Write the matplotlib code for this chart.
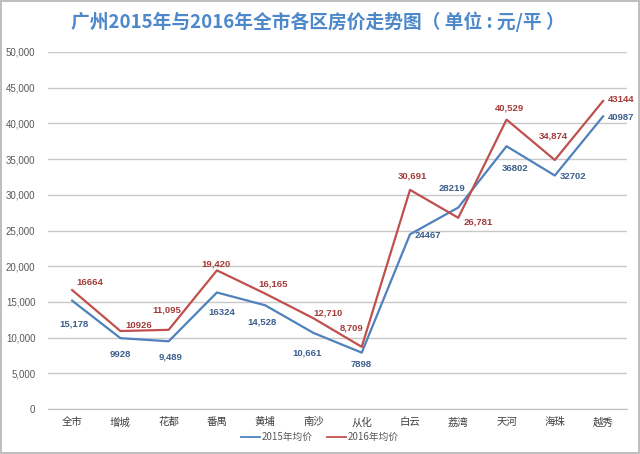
import matplotlib
matplotlib.use('Agg')
import matplotlib.pyplot as plt
import matplotlib.ticker as ticker

plt.rcParams['font.family'] = ['Noto Sans CJK SC', 'DejaVu Sans']

districts = ['全市', '增城', '花都', '番禺', '黄埔', '南沙', '从化', '白云', '荔湾', '天河', '海珠', '越秀']
price_2015 = [15178, 9928, 9489, 16324, 14528, 10661, 7898, 24467, 28219, 36802, 32702, 40987]
price_2016 = [16664, 10926, 11095, 19420, 16165, 12710, 8709, 30691, 26781, 40529, 34874, 43144]
labels_2015 = ['15,178', '9928', '9,489', '16324', '14,528', '10,661', '7898',
               '24467', '28219', '36802', '32702', '40987']
labels_2016 = ['16664', '10926', '11,095', '19,420', '16,165', '12,710', '8,709',
               '30,691', '26,781', '40,529', '34,874', '43144']

# label offsets in pixels (dx, dy)
off_2015 = [(2, -23), (0, -16), (2, -16), (5, -20), (-3, -17), (-6, -20), (-1, -12),
            (18, -1), (-6, 19), (9, -22), (18, -1), (18, -1)]
off_2016 = [(18, 8), (18, 6), (-2, 20), (-1, 6), (8, 10), (15, 5), (-10, 19),
            (2, 14), (20, -4), (3, 12), (-2, 24), (18, 1)]

blue = '#4F81BD'
red = '#C0504D'

fig = plt.figure(figsize=(6.4, 4.54), dpi=100)
fig.patch.set_facecolor('white')
fig.patch.set_edgecolor('#BFBFBF')
fig.patch.set_linewidth(1.5)

ax = fig.add_axes([0.075, 0.099, 0.905, 0.7865])
x = list(range(len(districts)))
ax.plot(x, price_2015, color=blue, lw=1.6, label='2015年均价')
ax.plot(x, price_2016, color=red, lw=1.6, label='2016年均价')

for i in x:
    ax.annotate(labels_2015[i], (i, price_2015[i]), xytext=off_2015[i], textcoords='offset pixels',
                ha='center', va='center', fontsize=6.8, fontweight='bold', color='#3B5E8C',
                family=['Liberation Sans', 'DejaVu Sans'])
    ax.annotate(labels_2016[i], (i, price_2016[i]), xytext=off_2016[i], textcoords='offset pixels',
                ha='center', va='center', fontsize=6.8, fontweight='bold', color='#A23B39',
                family=['Liberation Sans', 'DejaVu Sans'])

ax.set_xlim(-0.5, len(districts) - 0.5)
ax.set_ylim(0, 50000)
ax.yaxis.set_major_locator(ticker.MultipleLocator(5000))
ax.yaxis.set_major_formatter(ticker.StrMethodFormatter('{x:,.0f}'))
ax.set_xticks(x)
ax.set_xticklabels(districts)
ax.grid(axis='y', color='#C8C8C8', lw=1)
ax.set_axisbelow(True)
for s in ['top', 'right', 'left']:
    ax.spines[s].set_visible(False)
ax.spines['bottom'].set_color('#BFBFBF')
ax.tick_params(axis='y', length=0, pad=9, labelsize=7, labelcolor='#595959')
ax.tick_params(axis='x', length=0, pad=6, labelsize=7.5, labelcolor='#404040')
for t in ax.get_yticklabels():
    t.set_family(['Liberation Sans', 'DejaVu Sans'])

fig.text(0.496, 0.952, '广州2015年与2016年全市各区房价走势图（ 单位 : 元/平 ）', ha='center', va='center',
         fontsize=13.5, fontweight='bold', color='#4D88CA')

ax.legend(loc='center', ncol=2, frameon=False, fontsize=7, handlelength=2.0,
          handletextpad=0.2, columnspacing=1.4, labelcolor='#595959')
leg = ax.get_legend()
leg.set_bbox_to_anchor((0.5, 1 - 437 / 454), transform=fig.transFigure)
for line in leg.get_lines():
    line.set_linewidth(1.3)

fig.savefig('out.png', dpi=100, facecolor=fig.get_facecolor(), edgecolor=fig.get_edgecolor())
